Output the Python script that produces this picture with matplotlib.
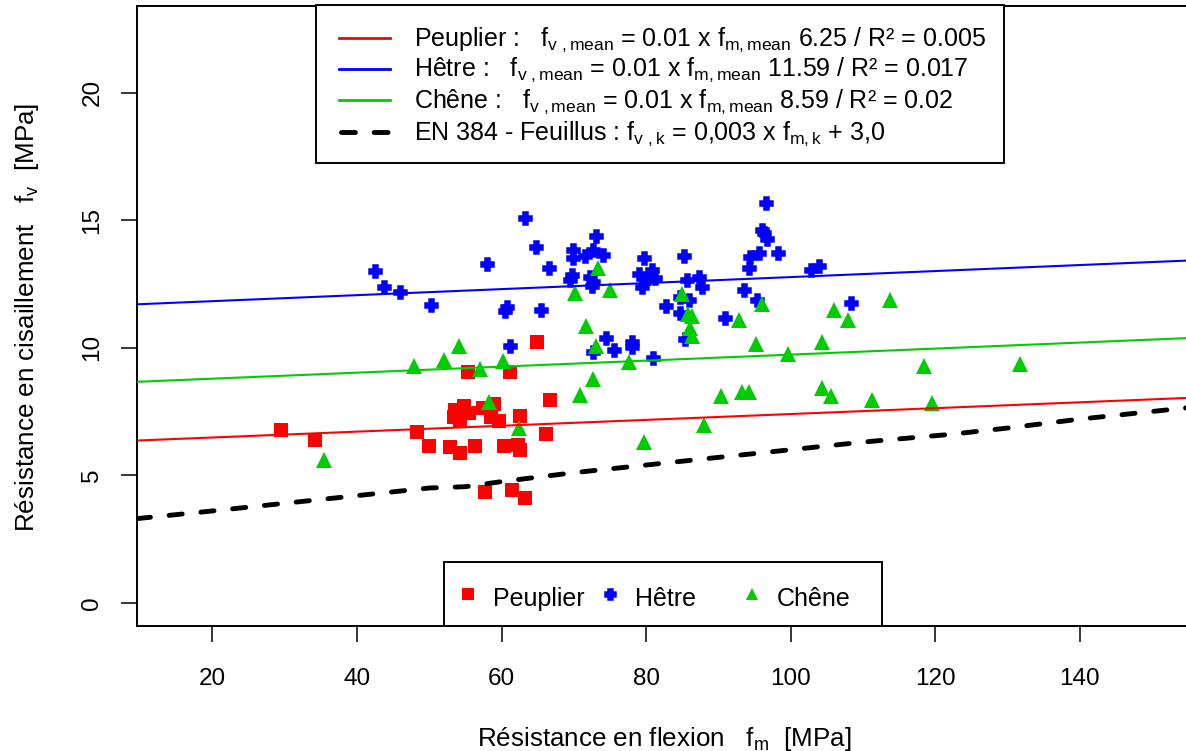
import matplotlib
matplotlib.use('Agg')
import matplotlib.pyplot as plt
from matplotlib.patches import Rectangle
from matplotlib.lines import Line2D

plt.rcParams['font.family'] = ['Liberation Sans', 'DejaVu Sans']
plt.rcParams['mathtext.fontset'] = 'custom'
plt.rcParams['mathtext.rm'] = 'Liberation Sans'
plt.rcParams['mathtext.it'] = 'Liberation Sans'
plt.rcParams['mathtext.bf'] = 'Liberation Sans:bold'
plt.rcParams['lines.scale_dashes'] = False

# --- data (fm, fv in MPa) ---
peuplier_fm = [29.5, 34.2, 48.3, 49.9, 52.9, 54.3, 56.3, 60.4, 62.3, 62.6, 66.2, 66.7,
               62.6, 58.9, 57.4, 58.5, 59.6, 53.6, 54.8, 55.5, 54.3, 53.4, 55.4, 61.2,
               64.9, 57.7, 61.5, 63.2]
peuplier_fv = [6.78, 6.38, 6.69, 6.15, 6.10, 5.86, 6.15, 6.15, 6.20, 6.00, 6.61, 7.95,
               7.34, 7.79, 7.62, 7.30, 7.14, 7.56, 7.72, 7.43, 7.17, 7.30, 9.04, 9.04,
               10.21, 4.34, 4.43, 4.10]

hetre_fm = [42.5, 43.8, 46.0, 50.2, 58.0, 60.5, 60.8, 61.2, 63.2, 64.7, 65.5, 66.5,
            69.9, 69.9, 69.75, 69.5, 71.5, 72.7, 74.0, 73.1, 72.3, 72.7, 72.5, 72.6,
            74.5, 75.6, 78.1, 78.1, 79.75, 79.0, 79.4, 80.8, 81.2, 80.2, 81.0, 82.8,
            84.7, 84.7, 85.9, 85.3, 85.6, 87.3, 87.7, 85.4, 90.9, 93.6, 94.2, 94.4,
            95.6, 95.3, 96.0, 96.35, 96.8, 96.6, 98.3, 102.8, 103.9, 108.3]
hetre_fv = [13.0, 12.38, 12.18, 11.67, 13.28, 11.44, 11.58, 10.07, 15.08, 13.94, 11.48, 13.12,
            13.83, 13.5, 12.85, 12.65, 13.59, 13.83, 13.63, 14.37, 12.78, 12.59, 12.42, 9.84,
            10.39, 9.91, 10.24, 10.03, 13.5, 12.89, 12.37, 13.04, 12.72, 12.72, 9.58, 11.63,
            11.97, 11.35, 11.87, 13.59, 12.65, 12.76, 12.37, 10.33, 11.18, 12.26, 13.11, 13.56,
            13.7, 11.87, 14.61, 14.48, 14.28, 15.68, 13.70, 13.04, 13.2, 11.74]

chene_fm = [35.5, 47.9, 52.1, 54.1, 57.0, 60.2, 58.2, 62.4, 70.9, 72.6, 73.4, 70.1,
            75.0, 85.0, 85.8, 86.4, 86.1, 86.4, 96.0, 92.8, 71.7, 73.1, 77.6, 95.2,
            99.6, 104.4, 106.0, 108.0, 113.7, 118.5, 131.8, 111.3, 119.6, 79.75, 88.0, 90.4,
            93.3, 94.3, 104.4, 105.6]
chene_fv = [5.60, 9.28, 9.52, 10.07, 9.17, 9.49, 7.88, 6.84, 8.15, 8.77, 13.11, 12.15,
            12.26, 12.09, 11.32, 11.24, 10.78, 10.46, 11.70, 11.08, 10.85, 10.07, 9.43, 10.14,
            9.75, 10.24, 11.48, 11.08, 11.87, 9.28, 9.36, 7.95, 7.82, 6.31, 6.97, 8.11,
            8.26, 8.26, 8.42, 8.11]

# regression lines fv = a * fm + b
species = ['Peuplier', 'Hêtre', 'Chêne']
reg_slope = [0.0115, 0.0118, 0.0118]
reg_intercept = [6.25, 11.59, 8.55]
reg_b_label = ['6.25', '11.59', '8.59']
reg_r2_label = ['0.005', '0.017', '0.02']

# EN 384 hardwood curve
en384_fm = [9.6, 20, 30, 40, 50, 55, 60, 70, 80, 85, 90, 100, 110, 118, 122, 130, 140, 150, 155.4]
en384_fv = [3.3, 3.6, 3.9, 4.2, 4.5, 4.55, 4.75, 5.1, 5.4, 5.55, 5.7, 6.0, 6.3, 6.5, 6.6, 6.85, 7.2, 7.5, 7.66]

colors = ['#FF0000', '#0000FF', '#00CD00']
markers = ['s', 'P', '^']
msizes = [9.5, 8.5, 11]
medge = [0, 1.8, 0]

W, H = 1186, 751
def fx(px):
    return px / W
def fy(py):
    return 1 - py / H

fig = plt.figure(figsize=(W / 100, H / 100), dpi=100)
ax = fig.add_axes([fx(137.3), fy(625.7), (1191 - 137.3) / W, (625.7 - 6) / H])

xs = [peuplier_fm, hetre_fm, chene_fm]
ys = [peuplier_fv, hetre_fv, chene_fv]
for i in range(3):
    ax.plot(xs[i], ys[i], ls='none', marker=markers[i], ms=msizes[i],
            color=colors[i], mec=colors[i], mew=medge[i], zorder=2 + i)

for i in range(3):
    ax.axline((0, reg_intercept[i]), slope=reg_slope[i], color=colors[i], lw=1.5, zorder=6)

ax.plot(en384_fm, en384_fv, color='black', lw=3.5, dashes=(9.5, 13.5),
        dash_capstyle='round', zorder=6)

ax.set_xlim(9.6, 155.4)
ax.set_ylim(-0.9, 23.4)
ax.set_xticks([20, 40, 60, 80, 100, 120, 140])
ax.set_yticks([0, 5, 10, 15, 20])
ax.tick_params(direction='out', length=11.5, width=1.1, labelsize=17.5, color='black')
ax.tick_params(axis='x', pad=19)
ax.tick_params(axis='y', pad=13)
plt.setp(ax.get_yticklabels(), rotation=90, va='center')
for s in ax.spines.values():
    s.set_linewidth(1.4)

fig.text(fx(664), fy(746), r'Résistance en flexion   f$_{\mathregular{m}}$  [MPa]',
         ha='center', va='baseline', fontsize=18.7)
fig.text(fx(34), fy(317), r'Résistance en cisaillement   f$_{\mathregular{v}}$  [MPa]',
         ha='center', va='baseline', rotation=90, rotation_mode='anchor', fontsize=18.7)

# top legend
fig.add_artist(Rectangle((fx(316), fy(163)), (1004 - 316) / W, (163 - 5) / H,
                         transform=fig.transFigure, facecolor='white',
                         edgecolor='black', lw=1.4, zorder=10))
rows = [38, 68.5, 100, 132]
for i in range(3):
    fig.add_artist(Line2D([fx(339), fx(389.5)], [fy(rows[i])] * 2, transform=fig.transFigure,
                          color=colors[i], lw=2, zorder=11))
    lab = (species[i] + r' :   f$_{\mathregular{v\ ,mean}}$ = 0.01 x f$_{\mathregular{m,mean}}$ '
           + reg_b_label[i] + ' / R² = ' + reg_r2_label[i])
    fig.text(fx(413.6), fy(rows[i] + 7.5), lab, va='baseline', fontsize=18, zorder=11)
fig.add_artist(Line2D([fx(341), fx(388)], [fy(rows[3])] * 2, transform=fig.transFigure,
                      color='black', lw=3.5, dashes=(10, 13.5), dash_capstyle='round', zorder=11))
fig.text(fx(413.6), fy(rows[3] + 7.5),
         r'EN 384 - Feuillus : f$_{\mathregular{v\ ,k}}$ = 0,003 x f$_{\mathregular{m,k}}$ + 3,0',
         va='baseline', fontsize=18, zorder=11)

# bottom legend
fig.add_artist(Rectangle((fx(444), fy(625.7)), (882 - 444) / W, (625.7 - 561.7) / H,
                         transform=fig.transFigure, facecolor='white',
                         edgecolor='black', lw=1.4, zorder=10))
mk_x = [468, 610, 752]
tx_x = [493, 635, 777]
for i in range(3):
    fig.add_artist(Line2D([fx(mk_x[i])], [fy(594)], transform=fig.transFigure, ls='none',
                          marker=markers[i], ms=msizes[i] * 0.85, color=colors[i],
                          mec=colors[i], mew=medge[i], zorder=11))
    fig.text(fx(tx_x[i]), fy(606), species[i], va='baseline', fontsize=18, zorder=11)

fig.savefig('out.png', dpi=100)
